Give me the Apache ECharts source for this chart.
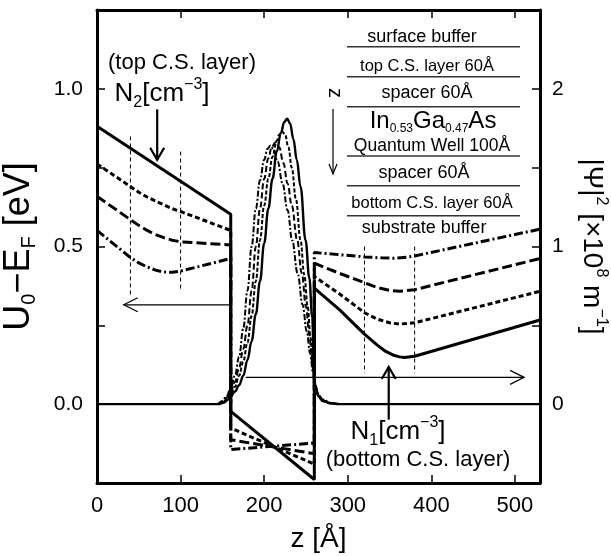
<!DOCTYPE html>
<html>
<head>
<meta charset="utf-8">
<script src="https://cdn.jsdelivr.net/npm/echarts@6/dist/echarts.min.js"></script>
<style>
  html, body { margin: 0; padding: 0; background: #fff; }
  #chart { width: 611px; height: 556px; }
</style>
</head>
<body>
<div id="chart"></div>
<script>
// conduction band profile U0-EF [eV] vs z [Å]
const potSolid = [[0,0.881],[160,0.602],[160,-0.023],[260,-0.239],[260,0.368],[290,0.300],[320,0.222],[335,0.188],[345,0.168],[355,0.155],[362,0.150],[368,0.148],[380,0.152],[530,0.267]];
const potDotted = [[0,0.762],[40,0.690],[50,0.672],[60,0.657],[70,0.644],[80,0.632],[90,0.620],[100,0.611],[160,0.551],[160,-0.076],[260,-0.190],[260,0.405],[290,0.350],[320,0.290],[335,0.270],[350,0.258],[362,0.254],[380,0.258],[530,0.358]];
const potDashed = [[0,0.659],[40,0.585],[50,0.567],[60,0.551],[70,0.538],[80,0.528],[90,0.520],[100,0.515],[160,0.505],[160,-0.113],[260,-0.157],[260,0.447],[290,0.415],[320,0.385],[335,0.370],[350,0.361],[362,0.358],[380,0.363],[530,0.462]];
const potDashDot = [[0,0.551],[40,0.465],[50,0.448],[60,0.435],[70,0.425],[80,0.419],[90,0.418],[100,0.422],[160,0.462],[160,-0.144],[260,-0.123],[260,0.481],[290,0.474],[320,0.467],[340,0.464],[355,0.463],[370,0.466],[380,0.470],[530,0.555]];

// |psi|^2 [x10^8 m^-1] vs z [Å]
const psiSolid = [[0,0],[145,0],[152,0.01],[157,0.03],[160,0.05],[165,0.08],[170,0.12],[175,0.18],[180,0.28],[185,0.40],[190,0.57],[195,0.78],[200,1.02],[205,1.24],[210,1.43],[215,1.60],[220,1.72],[224,1.79],[227.5,1.81],[231,1.78],[235,1.68],[239,1.55],[243.5,1.38],[249.5,1.04],[254,0.80],[257.5,0.55],[259.5,0.25],[261,0.12],[265,0.05],[270,0.02],[280,0.005],[290,0],[530,0]];
const psiDotted = [[145,0],[150,0.01],[155,0.03],[160,0.07],[165,0.11],[170,0.18],[175,0.27],[180,0.39],[185,0.56],[190,0.78],[195,1.04],[200,1.26],[205,1.43],[210,1.57],[215,1.67],[218,1.71],[221.5,1.73],[225,1.71],[229,1.63],[233,1.50],[238,1.30],[243.5,1.04],[248,0.82],[252,0.62],[255.5,0.42],[258.5,0.24],[261,0.12],[265,0.05],[270,0.02],[280,0.005],[290,0]];
const psiDashed = [[145,0],[150,0.015],[155,0.04],[160,0.08],[165,0.14],[170,0.23],[175,0.35],[180,0.50],[185,0.72],[190,1.00],[195,1.24],[200,1.43],[205,1.56],[209,1.63],[213.5,1.66],[218,1.63],[223,1.53],[228,1.40],[233,1.26],[239.5,1.04],[245,0.83],[250,0.62],[254,0.44],[257.5,0.27],[260,0.14],[263,0.07],[268,0.03],[278,0.008],[290,0]];
const psiDashDot = [[145,0],[150,0.02],[155,0.05],[160,0.10],[165,0.18],[170,0.30],[175,0.48],[180,0.72],[185,1.00],[190,1.24],[195,1.42],[200,1.55],[204,1.62],[207.5,1.64],[211,1.62],[216,1.54],[222,1.40],[228,1.23],[233.5,1.04],[240,0.83],[246,0.63],[251,0.46],[255,0.32],[258.5,0.20],[261,0.12],[265,0.06],[270,0.03],[280,0.008],[290,0]];

// annotations in data coordinates
const guideLines = [[[40,0.849],[40,0.342]],[[100,0.801],[100,0.363]],[[320,0.500],[320,0.099]],[[380,0.500],[380,0.099]]];
const arrows = [
  { from: [160,0.315], to: [32,0.315], w: 1.2 },
  { from: [178,0.085], to: [511,0.085], w: 1.2 },
  { from: [72,0.935], to: [72,0.775], w: 2.2 },
  { from: [349,-0.049], to: [349,0.118], w: 2.2 }
];

// layer stack drawing (pixels)
const stackLines = [46.7, 76.7, 106.7, 156, 185.7, 215.7];
const stackTexts = [
  ['surface buffer', 422, 37, 18],
  ['top C.S. layer 60Å', 427, 66, 16.5],
  ['spacer 60Å', 427, 93, 18],
  ['{m|In}{sb|0.53}{m|Ga}{sb|0.47}{m|As}', 433, 121, 24],
  ['Quantum Well 100Å', 432, 146, 17.5],
  ['spacer 60Å', 424, 173, 18],
  ['bottom C.S. layer 60Å', 432, 203, 16.5],
  ['substrate buffer', 424, 228, 18]
];

const FONT = '"Liberation Sans", Arial, Helvetica, sans-serif';
const chart = echarts.init(document.getElementById('chart'));

function leftLabel(v) {
  const r = Math.round(v * 2) / 2;
  if (Math.abs(v - r) < 1e-6 && v > -0.01 && v < 1.01) return v.toFixed(1);
  return '';
}
function rightLabel(v) {
  const r = Math.round(v);
  if (Math.abs(v - r) < 1e-6 && v > -0.01 && v < 2.01) return String(r);
  return '';
}

const axisLine = { show: true, onZero: false, lineStyle: { color: '#000', width: 3 } };
const tick = { show: true, inside: true, length: 8, lineStyle: { color: '#000', width: 1.5 } };

function potSeries(data, type) {
  return { type: 'line', data, xAxisIndex: 0, yAxisIndex: 0, symbol: 'none', smooth: false,
    lineStyle: { color: '#000', width: 3, type }, z: 3 };
}
function psiSeries(data, type, width) {
  return { type: 'line', data, xAxisIndex: 0, yAxisIndex: 1, symbol: 'none', smooth: 0.4, smoothMonotone: 'x',
    lineStyle: { color: '#000', width, type }, z: 2 };
}

const option = {
  animation: false,
  backgroundColor: '#fff',
  textStyle: { fontFamily: FONT },
  grid: { left: 97, right: 71, top: 10, bottom: 73, containLabel: false, outerBoundsMode: 'none' },
  xAxis: [
    { type: 'value', min: 0, max: 530, interval: 100, position: 'bottom',
      axisLine, axisTick: tick, splitLine: { show: false },
      axisLabel: { fontSize: 22, color: '#000', margin: 12, showMaxLabel: false, fontFamily: FONT },
      name: 'z [Å]', nameLocation: 'middle', nameGap: 42,
      nameTextStyle: { fontSize: 28, color: '#000', fontFamily: FONT } },
    { type: 'value', min: 0, max: 530, interval: 100, position: 'top',
      axisLine, axisTick: tick, splitLine: { show: false }, axisLabel: { show: false } }
  ],
  yAxis: [
    { type: 'value', min: -0.25, max: 1.25, interval: 0.25, position: 'left',
      axisLine, axisTick: tick, splitLine: { show: false },
      axisLabel: { fontSize: 21, color: '#000', margin: 14, formatter: leftLabel, fontFamily: FONT },
      name: 'U{sb|0}−E{sb|F} [eV]', nameLocation: 'middle', nameGap: 58, nameRotate: 90,
      nameTextStyle: { fontSize: 36, color: '#000', fontFamily: FONT, lineHeight: 40,
        rich: { sb: { fontSize: 20, verticalAlign: 'bottom', lineHeight: 40, fontFamily: FONT, color: '#000' } } } },
    { type: 'value', min: -0.5, max: 2.5, interval: 0.5, position: 'right',
      axisLine, axisTick: tick, splitLine: { show: false },
      axisLabel: { fontSize: 21, color: '#000', margin: 12, formatter: rightLabel, fontFamily: FONT },
      name: '|Ψ|{sp|2} [×10{sp|8} m{sp|−1}]', nameLocation: 'middle', nameGap: 35, nameRotate: -90,
      nameTextStyle: { fontSize: 28, color: '#000', fontFamily: FONT, lineHeight: 34,
        rich: { sp: { fontSize: 16, verticalAlign: 'top', lineHeight: 34, fontFamily: FONT, color: '#000' } } } }
  ],
  series: [
    psiSeries(psiSolid, 'solid', 2.4),
    psiSeries(psiDotted, [4, 2], 2),
    psiSeries(psiDashed, [6, 3], 2),
    psiSeries(psiDashDot, [6, 2, 2, 2], 2),
    potSeries(potSolid, 'solid'),
    potSeries(potDotted, [5, 3]),
    potSeries(potDashed, [10, 4]),
    potSeries(potDashDot, [9, 3, 2, 3])
  ]
};

chart.setOption(option);

// annotation graphics
const px = p => chart.convertToPixel({ xAxisIndex: 0, yAxisIndex: 0 }, p);
const graphic = [];

guideLines.forEach(([a, b]) => {
  const p1 = px(a), p2 = px(b);
  graphic.push({ type: 'line', shape: { x1: p1[0], y1: p1[1], x2: p2[0], y2: p2[1] },
    style: { stroke: '#000', lineWidth: 1, lineDash: [4, 3] }, z: 10 });
});

function arrowGraphic(p1, p2, w, headLen, headW) {
  const dx = p2[0] - p1[0], dy = p2[1] - p1[1];
  const len = Math.hypot(dx, dy);
  const ux = dx / len, uy = dy / len;
  const nx = -uy, ny = ux;
  graphic.push({ type: 'line', shape: { x1: p1[0], y1: p1[1], x2: p2[0], y2: p2[1] },
    style: { stroke: '#000', lineWidth: w }, z: 10 });
  graphic.push({ type: 'polyline', shape: { points: [
      [p2[0] - ux * headLen + nx * headW, p2[1] - uy * headLen + ny * headW],
      [p2[0], p2[1]],
      [p2[0] - ux * headLen - nx * headW, p2[1] - uy * headLen - ny * headW]] },
    style: { stroke: '#000', lineWidth: w, fill: null }, z: 10 });
}
arrows.forEach(a => arrowGraphic(px(a.from), px(a.to), a.w, a.w > 2 ? 12 : 14, 7));

// layer stack
stackLines.forEach(y => {
  graphic.push({ type: 'line', shape: { x1: 347, y1: y, x2: 520, y2: y },
    style: { stroke: '#333', lineWidth: 1.5 }, z: 10 });
});
stackTexts.forEach(([t, x, y, fs]) => {
  graphic.push({ type: 'text', z: 10, style: { text: t, x, y, fill: '#000',
    font: fs + 'px ' + FONT, align: 'center', verticalAlign: 'middle',
    textAlign: 'center', textVerticalAlign: 'middle',
    rich: { m: { fontSize: fs, fontFamily: FONT, lineHeight: 28 },
            sb: { fontSize: 12, fontFamily: FONT, verticalAlign: 'bottom', lineHeight: 28 } } } });
});
// z direction marker
graphic.push({ type: 'text', x: 335, y: 93, rotation: -Math.PI / 2, z: 10,
  style: { text: 'z', x: 0, y: 0, fill: '#000', font: '20px ' + FONT, align: 'center', verticalAlign: 'middle' } });
arrowGraphic([333, 109], [333, 174], 1.2, 10, 4);

// doping labels
const labelTexts = [
  ['(top C.S. layer)', 182, 63],
  ['{m|N}{sb|2}{m|[cm}{sp|−3}{m|]}', 162, 94],
  ['{m|N}{sb|1}{m|[cm}{sp|−3}{m|]}', 398, 432],
  ['(bottom C.S. layer)', 418, 460]
];
labelTexts.forEach(([t, x, y]) => {
  graphic.push({ type: 'text', z: 10, style: { text: t, x, y, fill: '#000',
    font: '22px ' + FONT, align: 'center', verticalAlign: 'middle',
    rich: { m: { fontSize: 26, fontFamily: FONT, lineHeight: 34 },
            sb: { fontSize: 16, fontFamily: FONT, verticalAlign: 'bottom', lineHeight: 34 },
            sp: { fontSize: 16, fontFamily: FONT, verticalAlign: 'top', lineHeight: 34 } } } });
});

chart.setOption({ graphic });
</script>
</body>
</html>
